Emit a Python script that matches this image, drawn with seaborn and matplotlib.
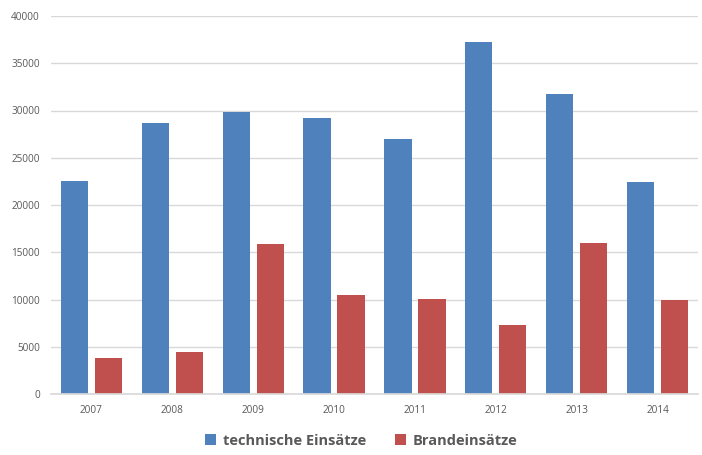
import matplotlib.pyplot as plt
import seaborn as sns
import pandas as pd

years = ["2007", "2008", "2009", "2010", "2011", "2012", "2013", "2014"]
technische = [22540, 28700, 29800, 29200, 26950, 37200, 31700, 22400]
brand = [3800, 4400, 15900, 10500, 10050, 7250, 16000, 9900]
series = ["technische Einsätze", "Brandeinsätze"]
colors = {"technische Einsätze": "#4F81BD", "Brandeinsätze": "#C0504D"}

df = pd.DataFrame({
    "year": years * 2,
    "value": technische + brand,
    "type": [series[0]] * len(years) + [series[1]] * len(years),
})

sns.set_theme(style="white")
plt.rcParams['font.family'] = ['Open Sans', 'DejaVu Sans']

fig = plt.figure(figsize=(7.02, 4.55), dpi=100)
ax = fig.add_axes([51 / 702, 61 / 455, 647 / 702, 378 / 455])

sns.barplot(data=df, x="year", y="value", hue="type", palette=colors,
            saturation=1, width=0.84, gap=0.2, linewidth=0, ax=ax, legend=True)

ax.set_ylim(0, 40000)
ax.set_xlim(-0.5, 7.5)
ax.set_yticks(range(0, 40001, 5000))
ax.yaxis.grid(True, color="#d9d9d9", linewidth=1)
ax.set_axisbelow(True)
ax.set_xlabel("")
ax.set_ylabel("")
for s in ["left", "right", "top"]:
    ax.spines[s].set_visible(False)
ax.spines["bottom"].set_color("#d9d9d9")
ax.tick_params(axis="both", length=0, labelsize=7.2, labelcolor="#595959")
ax.tick_params(axis="y", pad=8)
ax.tick_params(axis="x", pad=8)

ax.legend(loc="upper center", bbox_to_anchor=(0.48, -0.07), ncol=2, frameon=False,
          handlelength=0.75, handleheight=0.75, handletextpad=0.45, columnspacing=2.0,
          prop={"family": ["Open Sans", "DejaVu Sans"], "weight": "bold", "size": 10.5})
for t in ax.get_legend().get_texts():
    t.set_color("#595959")

plt.savefig("out.png", dpi=100)
